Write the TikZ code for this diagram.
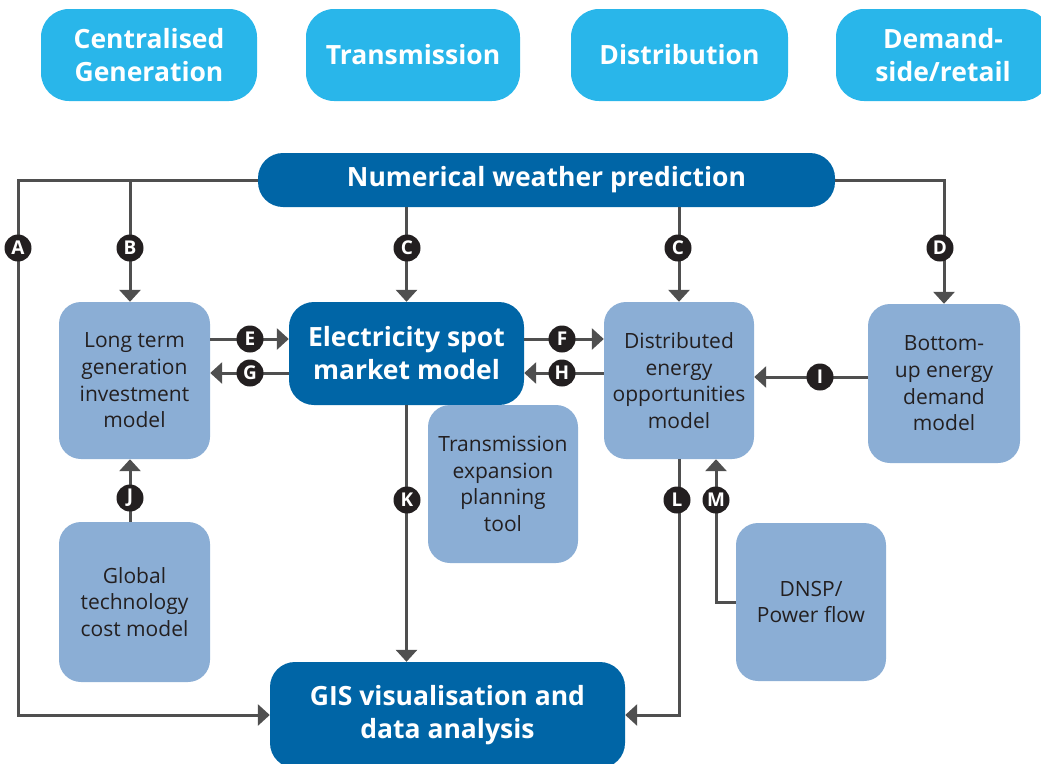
\documentclass[tikz,border=0pt]{standalone}
\usepackage{fontspec}
\setmainfont{Open Sans}
\usetikzlibrary{arrows.meta}
\definecolor{cyanbox}{HTML}{29B6EA}
\definecolor{darkbox}{HTML}{0065A6}
\definecolor{lightbox}{HTML}{8BAED5}
\definecolor{linegray}{HTML}{4F4F4F}
\definecolor{tagblack}{HTML}{231F20}

\begin{document}
\begin{tikzpicture}[x=1pt,y=-1pt]
			\tikzstyle{every node}+=[inner sep=0pt]
			\tikzstyle{stage}=[rectangle, rounded corners=28pt, fill=cyanbox, text=white, align=center, font=\bfseries\fontsize{26.5}{33}\selectfont]
			\tikzstyle{core}=[rectangle, rounded corners=25pt, fill=darkbox, text=white, align=center, font=\bfseries\fontsize{26.5}{33}\selectfont]
			\tikzstyle{tool}=[rectangle, rounded corners=22pt, fill=lightbox, text=tagblack, align=center, font=\fontsize{21}{26.7}\selectfont]
			\tikzstyle{link}=[linegray, line width=3pt]
			\tikzstyle{arr}=[link, -{Triangle[width=21pt,length=12pt]}]
			\tikzstyle{tag}=[circle, fill=tagblack, minimum size=27pt, text=white, font=\bfseries\fontsize{19}{19}\selectfont]
			\clip (0,0) rectangle (1041,763);
			% sector headings
			\node [stage, minimum width=216pt, minimum height=92pt] (cg) at (149,55) {Centralised\\Generation};
			\node [stage, minimum width=214pt, minimum height=92pt] (tr) at (413,55) {Transmission};
			\node [stage, minimum width=217pt, minimum height=92pt] (di) at (679.5,55) {Distribution};
			\node [stage, minimum width=214pt, minimum height=92pt] (ds) at (943,55) {Demand-\\side/retail};
			% models
			\node [core, minimum width=577pt, minimum height=54pt] (nwp) at (546.5,180) {Numerical weather prediction};
			\node [tool, minimum width=151pt, minimum height=157pt] (lt) at (134.5,380.5) {Long term\\generation\\investment\\model};
			\node [core, minimum width=235pt, minimum height=103pt] (esm) at (406.5,353.5) {Electricity spot\\market model};
			\node [tool, minimum width=150pt, minimum height=157pt] (deo) at (679,380.5) {Distributed\\energy\\opportunities\\model};
			\node [tool, minimum width=152pt, minimum height=159pt] (bue) at (944,383.5) {Bottom-\\up energy\\demand\\model};
			\node [tool, minimum width=150pt, minimum height=158pt] (tep) at (503,484) {Transmission\\expansion\\planning\\tool};
			\node [tool, minimum width=151pt, minimum height=160pt] (gcm) at (134.5,602) {Global\\technology\\cost model};
			\node [tool, minimum width=150pt, minimum height=158pt] (dnsp) at (811,602) {DNSP/\\Power flow};
			\node [core, minimum width=355pt, minimum height=106pt] (gis) at (447.5,715) {GIS visualisation and\\data analysis};
			% helper coordinates
			\coordinate (ca) at (18,450);
			\coordinate (cb) at (130,0);
			\coordinate (ef) at (0,339);
			\coordinate (gh) at (0,373);
			\coordinate (ri) at (0,377);
			\coordinate (mx) at (716,0);
			% links
			\draw [arr] (nwp.west) -| (ca) |- (gis.west);
			\draw [arr] (nwp.west -| cb) -- (cb |- lt.north);
			\draw [arr] (nwp.south -| esm.north) -- (esm.north);
			\draw [arr] (nwp.south -| deo.north) -- (deo.north);
			\draw [arr] (nwp.east) -| (bue.north);
			\draw [arr] (lt.east |- ef) -- (esm.west |- ef);
			\draw [arr] (esm.west |- gh) -- (lt.east |- gh);
			\draw [arr] (esm.east |- ef) -- (deo.west |- ef);
			\draw [arr] (deo.west |- gh) -- (esm.east |- gh);
			\draw [arr] (bue.west |- ri) -- (deo.east |- ri);
			\draw [arr] (gcm.north -| cb) -- (lt.south -| cb);
			\draw [arr] (esm.south) -- (gis.north -| esm.south);
			\draw [arr] (deo.south) |- (gis.east);
			\draw [arr] (dnsp.west) -| (deo.south -| mx);
			% link tags
			\node [tag] (tA) at (18,248) {A};
			\node [tag] (tB) at (130,248) {B};
			\node [tag] (tC) at (407,248) {C};
			\node [tag] (tC2) at (678,248) {C};
			\node [tag] (tD) at (940,248) {D};
			\node [tag] (tE) at (250,339) {E};
			\node [tag] (tG) at (250,373) {G};
			\node [tag] (tF) at (562,339) {F};
			\node [tag] (tH) at (562,373) {H};
			\node [tag] (tI) at (820,377) {I};
			\node [tag] (tJ) at (130,498) {J};
			\node [tag] (tK) at (407,500) {K};
			\node [tag] (tL) at (677,500) {L};
			\node [tag] (tM) at (716,500) {M};
\end{tikzpicture}
\end{document}
